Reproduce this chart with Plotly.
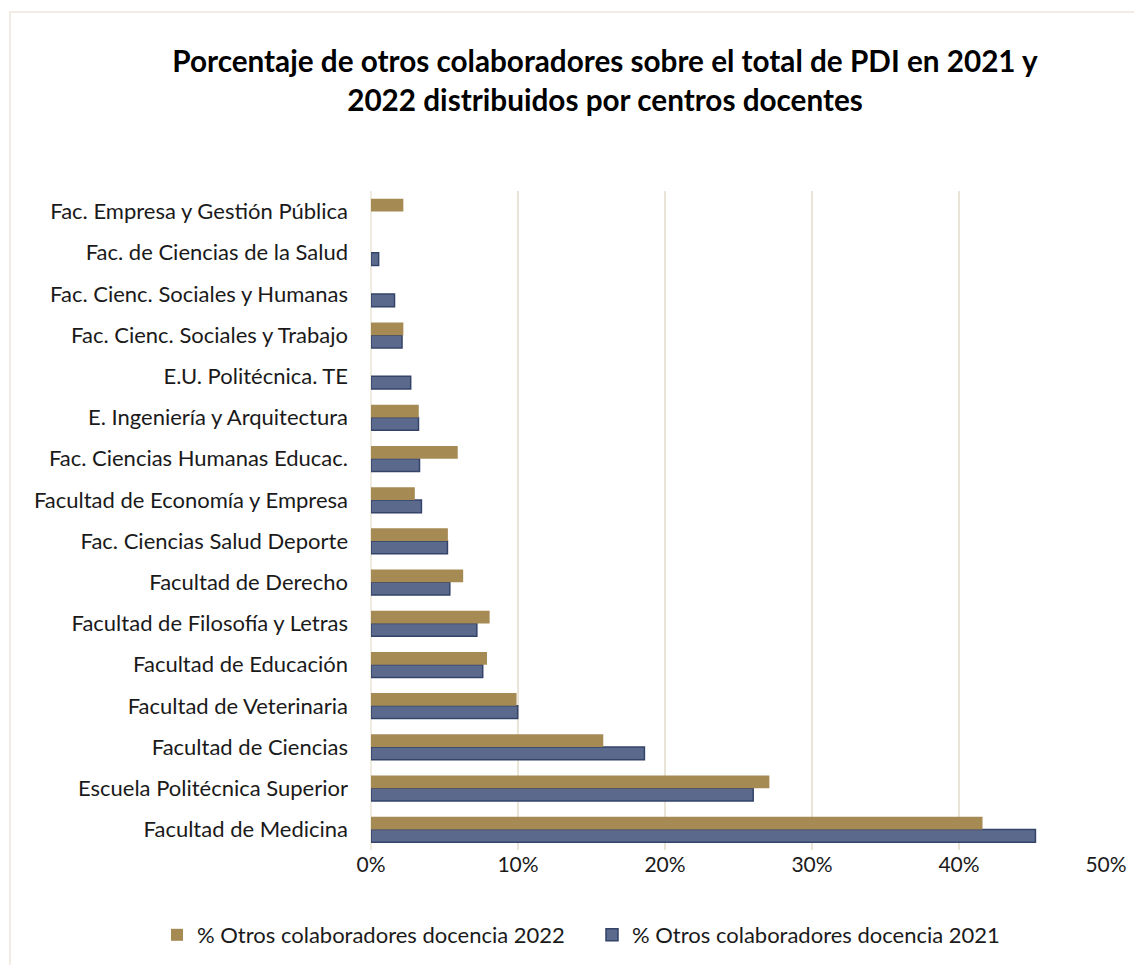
import plotly.graph_objects as go

# Centros docentes (de abajo hacia arriba, como en el eje)
centros = [
    "Facultad de Medicina",
    "Escuela Politécnica Superior",
    "Facultad de Ciencias",
    "Facultad de Veterinaria",
    "Facultad de Educación",
    "Facultad de Filosofía y Letras",
    "Facultad de Derecho",
    "Fac. Ciencias Salud Deporte",
    "Facultad de Economía y Empresa",
    "Fac. Ciencias Humanas Educac.",
    "E. Ingeniería y Arquitectura",
    "E.U. Politécnica. TE",
    "Fac. Cienc. Sociales y Trabajo",
    "Fac. Cienc. Sociales y Humanas",
    "Fac. de Ciencias de la Salud",
    "Fac. Empresa y Gestión Pública",
]

pct_2021 = [0.452, 0.260, 0.186, 0.0998, 0.076, 0.072, 0.0536, 0.052, 0.0343, 0.033,
            0.0323, 0.027, 0.0211, 0.016, 0.0052, None]
pct_2022 = [0.416, 0.271, 0.158, 0.099, 0.0789, 0.0807, 0.0627, 0.0523, 0.0298, 0.059,
            0.0325, None, 0.022, None, None, 0.022]

xticks = [0, 0.1, 0.2, 0.3, 0.4, 0.5]

FONT = "Lato, 'Open Sans', sans-serif"

# the page body has an 8px margin; positions below are page pixels
OFF = 8
W, H = 1142 - OFF, 965 - OFF

fig = go.Figure()

fig.add_trace(go.Bar(
    y=centros, x=pct_2021, orientation="h",
    name="% Otros colaboradores docencia 2021",
    marker=dict(color="#5B6A8C", line=dict(color="#34436A", width=1.5)),
))
fig.add_trace(go.Bar(
    y=centros, x=pct_2022, orientation="h",
    name="% Otros colaboradores docencia 2022",
    marker=dict(color="#A68A54", line=dict(width=0)),
))

left, right, top, bottom = 371, 1106, 191, 850
L = left - OFF
R = W - (right - OFF)
T = top - OFF
B = H - (bottom - OFF)
pw = right - left
ph = bottom - top

fig.update_layout(
    width=W, height=H,
    paper_bgcolor="white", plot_bgcolor="white",
    font=dict(family=FONT, size=22, color="#1a1a1a"),
    title=dict(
        text="<b>Porcentaje de otros colaboradores sobre el total de PDI en 2021 y<br>2022 distribuidos por centros docentes</b>",
        x=(605 - OFF) / W, xanchor="center", y=1 - (72 - OFF) / H, yanchor="middle",
        font=dict(family=FONT, size=29.7, color="black"),
    ),
    barmode="group", bargap=0.38, bargroupgap=0.0,
    margin=dict(l=L, r=R, t=T, b=B, autoexpand=False),
    xaxis=dict(
        range=[0, 0.5], tickvals=xticks, tickformat=".0%",
        showgrid=True, gridcolor="#EAE4D6", gridwidth=1.5,
        zeroline=False, showline=False, ticks="",
        tickfont=dict(size=21), fixedrange=True,
    ),
    yaxis=dict(
        showgrid=False, zeroline=False, ticks="", ticklabelstandoff=22,
        tickfont=dict(size=22),
    ),
    legend=dict(
        orientation="h", traceorder="reversed",
        x=(157 - left) / pw, xanchor="left",
        y=-(935 - bottom) / ph, yanchor="middle",
        font=dict(size=22), itemwidth=30, entrywidth=390,
    ),
    showlegend=True,
    shapes=[
        dict(type="line", xref="paper", yref="paper",
             x0=0, x1=0, y0=0, y1=1,
             line=dict(color="#EAE4D6", width=1.5), layer="below"),
        dict(type="rect", xref="paper", yref="paper",
             x0=(10 - left) / pw, x1=(1160 - left) / pw,
             y0=(bottom - 985) / ph, y1=(bottom - 12) / ph,
             line=dict(color="#EDE8DC", width=1.5), layer="below"),
    ],
)

fig.write_html("out.html")
